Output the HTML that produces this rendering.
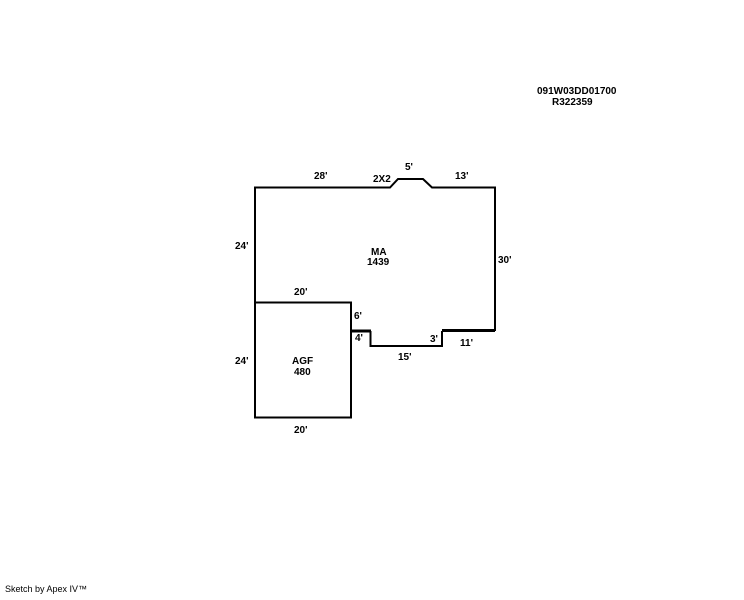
<!DOCTYPE html>
<html><head><style>
body{margin:0;background:#fff;width:744px;height:595px;overflow:hidden}
svg text{font-family:"Liberation Sans",sans-serif;font-size:10px;font-weight:bold;fill:#000}
</style></head><body>
<svg width="744" height="595" viewBox="0 0 744 595">
<g fill="none" stroke="#000" stroke-width="2">
<polyline points="255,302 255,187.5 390,187.5 398,179 423,179 432,187.5 495,187.5 495,331"/>
<polyline points="495,330.5 442,330.5" stroke-width="3"/>
<polyline points="442,331 442,346 370.5,346 370.5,331"/>
<polyline points="371,331 351,331" stroke-width="3"/>
<rect x="255" y="302.5" width="96" height="115"/>
</g>
<text x="537" y="94">091W03DD01700</text>
<text x="552" y="105">R322359</text>
<text x="314" y="179">28'</text>
<text x="373" y="182">2X2</text>
<text x="405" y="170">5'</text>
<text x="455" y="179">13'</text>
<text x="235" y="249">24'</text>
<text x="371" y="255">MA</text>
<text x="367" y="265">1439</text>
<text x="498" y="263">30'</text>
<text x="294" y="295">20'</text>
<text x="354" y="319">6'</text>
<text x="355" y="341">4'</text>
<text x="430" y="342">3'</text>
<text x="460" y="346">11'</text>
<text x="398" y="360">15'</text>
<text x="235" y="364">24'</text>
<text x="292" y="364">AGF</text>
<text x="294" y="375">480</text>
<text x="294" y="433">20'</text>
<text x="5" y="592" style="font-weight:normal;font-size:9px">Sketch by Apex IV™</text>
</svg>
</body></html>
